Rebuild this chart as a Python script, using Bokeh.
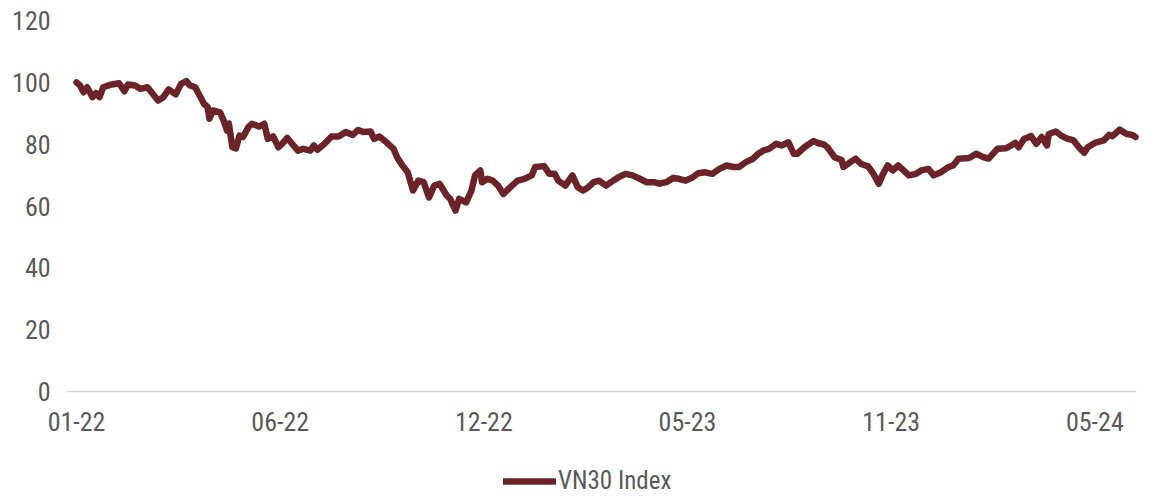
from bokeh.plotting import figure
from bokeh.models import Range1d, FixedTicker, Legend, LegendItem, ColumnDataSource, LinearAxis
from bokeh.embed import file_html
from bokeh.resources import INLINE

# trading-day index since start of 2022
day = [0, 2, 4, 6, 9, 11, 13, 15, 19, 24, 27, 29, 33, 36, 40, 43, 46, 49, 52, 56,
       59, 62, 64, 67, 70, 72, 74, 75, 77, 81, 83, 85, 86, 88, 90, 92, 94, 97,
       99, 103, 106, 108, 111, 114, 116, 119, 121, 125, 128, 132, 134, 136, 140,
       144, 148, 152, 156, 159, 162, 166, 168, 171, 175, 179, 181, 184, 187, 190,
       193, 196, 199, 202, 205, 209, 211, 214, 216, 220, 223, 225, 228, 229, 232,
       235, 238, 241, 245, 249, 253, 257, 259, 264, 267, 270, 272, 276, 280, 283,
       286, 289, 292, 295, 299, 303, 306, 310, 314, 318, 322, 326, 329, 333, 337,
       340, 344, 348, 351, 355, 359, 363, 367, 371, 374, 378, 382, 385, 388, 391,
       393, 395, 398, 402, 405, 407, 411, 416, 419, 422, 424, 428, 432, 433, 437,
       440, 443, 447, 450, 453, 455, 458, 461, 464, 467, 470, 474, 477, 481, 484,
       488, 492, 495, 498, 504, 508, 512, 515, 520, 525, 530, 532, 535, 539, 542,
       545, 548, 549, 553, 556, 559, 563, 566, 569, 571, 575, 580, 583, 585, 589,
       593, 596, 598]
vn30 = [100.0, 99.0, 96.8, 98.4, 95.2, 96.5, 95.2, 98.4, 99.2, 99.7, 97.1, 99.3,
        99.0, 97.9, 98.4, 96.3, 94.1, 95.2, 97.7, 96.1, 99.5, 100.4, 99.0, 98.4,
        95.2, 93.0, 92.0, 88.2, 90.9, 90.3, 87.7, 84.4, 86.7, 79.0, 78.6, 82.8,
        82.3, 85.5, 86.6, 85.7, 86.6, 81.7, 82.5, 79.0, 80.1, 82.0, 80.6, 77.9,
        78.5, 77.9, 79.6, 78.2, 80.1, 82.5, 82.5, 83.9, 83.0, 84.6, 83.9, 84.1,
        81.7, 82.5, 80.6, 78.5, 75.8, 73.1, 70.9, 65.0, 68.2, 67.7, 62.8, 66.6,
        67.2, 63.4, 62.3, 58.5, 62.3, 61.2, 65.0, 69.9, 71.5, 67.7, 68.8, 68.2,
        66.6, 63.9, 66.1, 68.2, 68.8, 69.9, 72.6, 72.9, 70.4, 70.4, 68.2, 66.6,
        69.9, 66.1, 65.0, 66.1, 67.7, 68.2, 66.6, 68.2, 69.3, 70.4, 69.9, 68.8,
        67.7, 67.7, 67.2, 67.7, 69.1, 68.8, 68.2, 69.3, 70.6, 70.9, 70.4, 72.0,
        73.1, 72.6, 72.6, 74.2, 75.3, 76.9, 78.0, 78.5, 79.3, 80.1, 79.6, 80.6,
        76.9, 76.9, 79.0, 81.0, 80.3, 79.9, 79.0, 75.8, 74.9, 72.6, 74.2, 75.3,
        73.6, 72.8, 70.4, 67.2, 69.9, 73.1, 71.5, 73.1, 71.5, 69.9, 70.4, 71.5,
        72.0, 69.9, 70.9, 72.5, 73.1, 75.3, 75.5, 76.9, 75.8, 75.3, 78.5, 78.7,
        80.4, 79.0, 81.7, 82.6, 80.1, 82.3, 79.6, 83.3, 84.1, 82.8, 81.9, 81.2,
        79.0, 77.2, 79.0, 80.4, 81.2, 83.0, 82.6, 84.7, 83.3, 83.0, 82.3]

tick_days = [0, 115, 230, 345, 460, 575]
tick_labels = ["01-22", "06-22", "12-22", "05-23", "11-23", "05-24"]
y_ticks = [0, 20, 40, 60, 80, 100, 120]

FONT = "'Liberation Sans Narrow', 'Arial Narrow', 'Roboto Condensed', sans-serif"
TXT = "#595959"
LINE = "#6C2328"

src = ColumnDataSource(dict(day=day, vn30=vn30))

# the frame fills the whole canvas; both axes are pinned inside it
X_LO, X_HI = -5.65, 598.6     # extent of the plotted area along x (days)
p = figure(width=1154, height=498, output_backend="svg", toolbar_location=None,
           x_axis_location=None, y_axis_location=None,
           x_range=Range1d(-42.95, 608.7), y_range=Range1d(-34.61, 126.47),
           min_border_left=0, min_border_right=0, min_border_top=0,
           min_border_bottom=0)
p.outline_line_color = None
p.xgrid.visible = False
p.ygrid.visible = False
p.background_fill_color = "white"
p.border_fill_color = "white"

r = p.line("day", "vn30", source=src, line_color=LINE, line_width=6.5,
           line_join="round", line_cap="round")

xa = LinearAxis(fixed_location=0, bounds=(X_LO, X_HI))
xa.ticker = FixedTicker(ticks=tick_days)
xa.major_label_overrides = {d: l for d, l in zip(tick_days, tick_labels)}
xa.axis_line_color = "#d9d9d9"
xa.axis_line_width = 1.5
xa.major_tick_line_color = None
xa.minor_tick_line_color = None
xa.major_tick_out = 0
xa.major_tick_in = 0
xa.minor_tick_out = 0
xa.major_label_text_font = FONT
xa.major_label_text_font_size = "26px"
xa.major_label_text_color = TXT
xa.major_label_standoff = 21
p.add_layout(xa, "below")

ya = LinearAxis(fixed_location=X_LO, bounds=(0, 120))
ya.ticker = FixedTicker(ticks=y_ticks)
ya.axis_line_color = None
ya.major_tick_line_color = None
ya.minor_tick_line_color = None
ya.major_tick_out = 0
ya.major_tick_in = 0
ya.minor_tick_out = 0
ya.major_label_text_font = FONT
ya.major_label_text_font_size = "26px"
ya.major_label_text_color = TXT
ya.major_label_standoff = 16
p.add_layout(ya, "left")

legend = Legend(items=[LegendItem(label="VN30 Index", renderers=[r])],
                orientation="horizontal", location=(503, 3),
                border_line_color=None, background_fill_alpha=0,
                glyph_width=53, glyph_height=24, label_standoff=2,
                padding=0, margin=0, spacing=0,
                label_text_font=FONT, label_text_font_size="25px",
                label_text_color=TXT)
p.add_layout(legend, "center")

open("out.html", "w").write(file_html(p, INLINE))
